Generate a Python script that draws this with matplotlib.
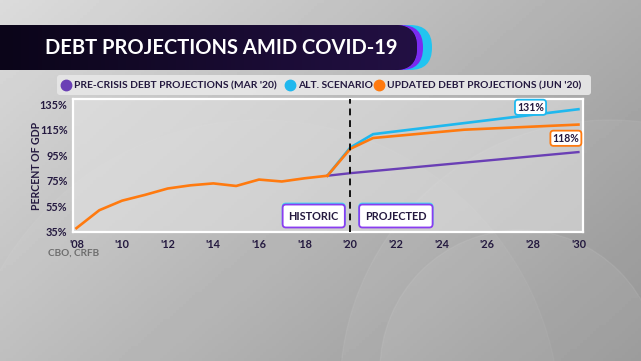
import numpy as np
import matplotlib
matplotlib.use('Agg')
import matplotlib.pyplot as plt
from matplotlib.patches import FancyBboxPatch, Circle

# --- data (percent of GDP) ---
hist_years = [2008, 2009, 2010, 2011, 2012, 2013, 2014, 2015, 2016, 2017, 2018, 2019]
hist_debt = [38, 52, 59.5, 64, 69, 71.5, 73, 71, 76, 74.5, 77, 79]

updated_years = [2019, 2020, 2021, 2025, 2030]
updated_debt = [79, 100, 108.5, 115, 119]

alt_years = [2019, 2020, 2021, 2030]
alt_debt = [79, 101, 111.5, 131]

precrisis_years = [2019, 2020, 2030]
precrisis_debt = [79, 81, 97.5]

series_names = ["PRE-CRISIS DEBT PROJECTIONS (MAR '20)", "ALT. SCENARIO",
                "UPDATED DEBT PROJECTIONS (JUN '20)"]
series_colors = ['#6a3fb5', '#1fb8ee', '#ff7a0f']

y_ticks = [35, 55, 75, 95, 115, 135]
x_ticks = list(range(2008, 2031, 2))

NAVY = '#24193f'
FONT = 'Lato'

W, H = 641, 361
fig = plt.figure(figsize=(W / 100, H / 100), dpi=100)

# background in pixel coordinates
bg = fig.add_axes([0, 0, 1, 1])
bg.set_xlim(0, W)
bg.set_ylim(H, 0)
bg.axis('off')
gx, gy = np.meshgrid(np.linspace(0, 1, 200), np.linspace(0, 1, 120))
grad = 0.86 - 0.30 * (0.6 * gx + 0.4 * gy)
bg.imshow(grad, cmap='gray', vmin=0, vmax=1, extent=[0, W, H, 0], aspect='auto', zorder=0)
for cx, cy, r, a in [(610, 390, 270, 0.06), (520, 370, 140, 0.07), (260, 420, 300, 0.04)]:
    bg.add_patch(Circle((cx, cy), r, facecolor='white', edgecolor='white',
                        alpha=a, lw=1.0, zorder=1))

# title banner
bg.add_patch(FancyBboxPatch((-40, 25), 472, 45, boxstyle='round,pad=0,rounding_size=22',
                            facecolor='#22c4f0', edgecolor='none', zorder=2))
bg.add_patch(FancyBboxPatch((-40, 25), 463, 45, boxstyle='round,pad=0,rounding_size=22',
                            facecolor='#7a2cf0', edgecolor='none', zorder=3))
banner = FancyBboxPatch((-40, 25), 457, 45, boxstyle='round,pad=0,rounding_size=22',
                        facecolor='#170b33', edgecolor='none', zorder=4)
bg.add_patch(banner)
bgrad = np.linspace(0, 1, 100).reshape(1, -1)
im = bg.imshow(bgrad, cmap=matplotlib.colors.LinearSegmentedColormap.from_list(
    'b', ['#0b0519', '#231044']), extent=[0, 420, 70, 25], aspect='auto', zorder=5)
im.set_clip_path(banner)
bg.text(221, 48, 'DEBT PROJECTIONS AMID COVID-19', color='white', fontsize=14.5,
        fontweight='bold', family=FONT, ha='center', va='center', zorder=6)

# legend bar
bg.add_patch(FancyBboxPatch((57, 75), 534, 20, boxstyle='round,pad=0,rounding_size=3',
                            facecolor='#e6e6e6', edgecolor='none', alpha=0.95, zorder=2))
leg_x = [66, 290, 379]
for x, name, c in zip(leg_x, series_names, series_colors):
    bg.plot(x, 85, 'o', ms=7.5, color=c, zorder=3)
    bg.text(x + 8, 85.5, name, color=NAVY, fontsize=7.4, fontweight='bold',
            family=FONT, ha='left', va='center', zorder=3)

# main chart
ax = fig.add_axes([73 / W, 1 - 232 / H, (583 - 73) / W, (232 - 99) / H])
ax.set_facecolor((0.9, 0.9, 0.9, 0.55))
for s in ax.spines.values():
    s.set_color('white')
    s.set_linewidth(1.6)
ax.set_xlim(2007.85, 2030.2)
ax.set_ylim(35, 139)

ax.plot(precrisis_years, precrisis_debt, color=series_colors[0], lw=1.7, zorder=3)
ax.plot(alt_years, alt_debt, color=series_colors[1], lw=1.9, zorder=4)
ax.plot(updated_years, updated_debt, color=series_colors[2], lw=1.9, zorder=5)
ax.plot(hist_years, hist_debt, color=series_colors[2], lw=1.9, zorder=5)
ax.axvline(2020, color='#111111', lw=1.4, ls=(0, (3.5, 2.5)), zorder=6, clip_on=False)

ax.set_yticks(y_ticks)
ax.set_yticklabels([f'{v}%' for v in y_ticks])
ax.set_xticks(x_ticks)
ax.set_xticklabels([f"'{y % 100:02d}" for y in x_ticks])
ax.tick_params(length=0, colors=NAVY, labelsize=7.8, pad=4)
ax.tick_params(axis='x', pad=5)
for lab in ax.get_xticklabels() + ax.get_yticklabels():
    lab.set_fontweight('bold')
    lab.set_family(FONT)
ax.set_ylabel('PERCENT OF GDP', color=NAVY, fontsize=7.6, fontweight='bold',
              family=FONT, labelpad=-2)

# end labels
ax.text(2027.9, 132.5, '131%', color=NAVY, fontsize=7.6, fontweight='bold',
        family=FONT, ha='center', va='center', zorder=7,
        bbox=dict(boxstyle='round,pad=0.2,rounding_size=0.3', fc='white',
                  ec=series_colors[1], lw=1.3))
ax.text(2029.45, 108.3, '118%', color=NAVY, fontsize=7.6, fontweight='bold',
        family=FONT, ha='center', va='center', zorder=7,
        bbox=dict(boxstyle='round,pad=0.2,rounding_size=0.3', fc='white',
                  ec=series_colors[2], lw=1.3))

# period boxes (cyan rim behind purple rim for a gradient look)
for xpos, txt in [(2018.4, 'HISTORIC'), (2022.0, 'PROJECTED')]:
    for dy, ec in [(0.8, '#3fd8f0'), (0.0, '#8a3df0')]:
        ax.text(xpos, 47.5 + dy, txt, color=NAVY, fontsize=7.8, fontweight='bold',
                family=FONT, ha='center', va='center', zorder=7,
                bbox=dict(boxstyle='round,pad=0.55,rounding_size=0.3', fc='white',
                          ec=ec, lw=1.3))

bg.text(48, 253.5, 'CBO, CRFB', color='#6f6f6f', fontsize=7.2, fontweight='bold',
        family=FONT, ha='left', va='center')

fig.savefig('out.png', dpi=100)
